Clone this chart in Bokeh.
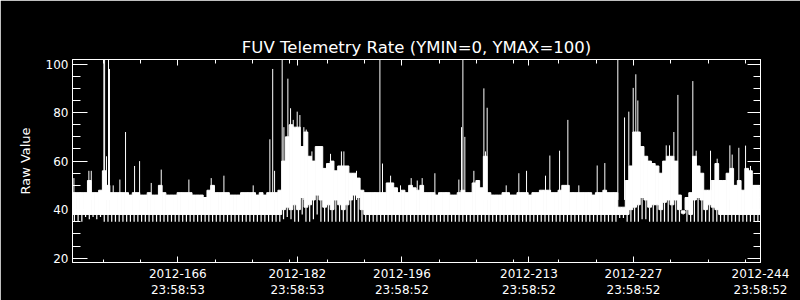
import numpy as np
from bokeh.plotting import figure
from bokeh.models import FixedTicker, LinearAxis, Range1d, CustomLabelingPolicy
from bokeh.embed import file_html
from bokeh.resources import INLINE

# ---------------- data ----------------
title_text = "FUV Telemetry Rate (YMIN=0, YMAX=100)"
y_label = "Raw Value"

# x in days (tick "2012-166 23:58:53" sits at 167)
major_days = [167, 183, 197, 214, 228, 245]
major_labels = ["2012-166\n23:58:53", "2012-182\n23:58:53", "2012-196\n23:58:52",
                "2012-213\n23:58:52", "2012-227\n23:58:52", "2012-244\n23:58:52"]
minor_days = [157, 162, 167, 172, 177, 182, 187, 192, 197, 202, 207, 212,
              218, 223, 228, 233, 238, 243]
y_major = [20, 40, 60, 80, 100]
y_minor = [20, 25, 30, 35, 40, 45, 50, 55, 60, 65, 70, 75, 80, 85, 90, 95, 100]

# half-day bins of the telemetry rate: upper level, lower edge of dense band, minimum
bin_start = 152.9
bin_width = 0.5
hi = [47, 47, 47, 47, 52, 47, 47, 48, 56, 50,
      47, 47, 47, 47, 47, 46, 47, 47, 46, 46,
      47, 46, 46, 50, 47, 46, 46, 46, 47, 47,
      47, 47, 46, 46, 46, 45, 48, 50, 47, 47,
      47, 47, 46, 46, 46, 47, 47, 47, 47, 46,
      47, 46, 47, 47, 47, 48, 60, 70, 75, 74,
      74, 66, 72, 62, 60, 66, 66, 57, 59, 60,
      56, 58, 58, 58, 55, 55, 53, 48, 47, 47,
      47, 47, 47, 47, 51, 51, 49, 47, 48, 47,
      50, 49, 48, 50, 47, 47, 47, 46, 47, 47,
      47, 46, 46, 47, 48, 47, 47, 51, 52, 49,
      62, 47, 46, 46, 46, 47, 47, 46, 46, 47,
      47, 47, 46, 47, 47, 48, 48, 48, 47, 47,
      48, 50, 50, 47, 47, 47, 47, 47, 47, 46,
      47, 47, 48, 47, 47, 47, 41, 41, 52, 58,
      72, 72, 66, 62, 60, 59, 58, 55, 60, 62,
      62, 60, 46, 39.5, 45, 47, 62, 58, 55, 48,
      48, 52, 59, 52, 52, 55, 57, 50, 52, 48,
      57, 56, 50, 50, 49]
band_floor = [38, 38, 38, 38, 38, 38, 38, 38, 38, 38,
              38, 38, 38, 38, 38, 38, 38, 38, 38, 38,
              38, 38, 38, 38, 38, 38, 38, 38, 38, 38,
              38, 38, 38, 38, 38, 38, 38, 38, 38, 38,
              38, 38, 38, 38, 38, 38, 38, 38, 38, 38,
              38, 38, 38, 38, 38, 38, 40, 41, 40, 42,
              40, 45, 41, 42, 44, 46, 44, 41, 42, 40,
              44, 42, 40, 42, 44, 46, 45, 40, 38, 38,
              38, 38, 38, 38, 38, 38, 38, 38, 38, 38,
              38, 38, 38, 38, 38, 38, 38, 38, 38, 38,
              38, 38, 38, 38, 38, 38, 38, 38, 38, 38,
              38, 38, 38, 38, 38, 38, 38, 38, 38, 38,
              38, 38, 38, 38, 38, 38, 38, 38, 38, 38,
              38, 38, 38, 38, 38, 38, 38, 38, 38, 38,
              38, 38, 38, 38, 38, 38, 38, 38, 38, 40,
              41, 42, 45, 44, 41, 42, 42, 40, 43, 44,
              42, 44, 40, 38.5, 40, 38, 44, 45, 44, 40,
              42, 41, 40, 38, 38, 38, 38, 38, 38, 38,
              38, 38, 38, 38, 38]
lo = [35, 35, 35, 37, 36, 37, 36, 37, 35, 35,
      35, 35, 35, 35, 35, 35, 35, 35, 35, 35,
      35, 35, 35, 35, 35, 35, 35, 35, 35, 35,
      35, 35, 35, 35, 35, 35, 35, 35, 35, 35,
      35, 35, 35, 35, 35, 35, 35, 35, 35, 35,
      35, 35, 35, 35, 35, 35, 36, 37, 36, 35,
      35, 38, 35, 35, 36, 38, 35, 35, 35, 35,
      35, 35, 35, 35, 35, 35, 35, 35, 35, 35,
      35, 35, 35, 35, 35, 35, 35, 35, 35, 35,
      35, 35, 35, 35, 35, 35, 35, 35, 35, 35,
      35, 35, 35, 35, 35, 35, 35, 35, 35, 35,
      35, 35, 35, 35, 35, 35, 35, 35, 35, 35,
      35, 35, 35, 35, 35, 35, 35, 35, 35, 35,
      35, 35, 35, 35, 35, 35, 35, 35, 35, 35,
      35, 35, 35, 35, 35, 35, 36.5, 36.5, 35, 35,
      35, 35, 36, 36, 35, 35, 35, 35, 35, 35,
      35, 35, 35, 38, 35, 35, 35, 35, 35, 35,
      35, 35, 35, 35, 35, 35, 35, 35, 35, 35,
      35, 35, 35, 35, 35]

spike_day = [153.09, 155.09, 155.41, 157.10, 157.20, 157.45, 157.72, 157.85, 158.35, 159.24,
             160.00, 161.21, 161.88, 163.44, 164.78, 168.48, 171.47, 173.17, 177.09, 179.32,
             179.70, 179.95, 180.97, 181.20, 181.73, 182.09, 182.45, 182.98, 183.34, 183.87,
             184.19, 184.95, 187.44, 188.90, 189.23, 190.92, 194.05, 194.40, 195.48, 196.81,
             198.24, 199.05, 199.71, 201.41, 204.62, 204.98, 205.16, 205.42, 206.63, 207.97,
             208.19, 208.41, 210.96, 212.65, 213.68, 216.22, 216.80, 218.10, 219.21, 220.68,
             223.14, 224.16, 225.90, 226.80, 227.37, 227.96, 228.31, 228.58, 232.38, 232.82,
             233.40, 233.94, 235.94, 236.39, 238.31, 239.20, 240.90, 241.21, 242.10, 243.00,
             243.66]
spike_val = [53, 56, 56, 104, 104, 62, 104, 98, 50, 52.4,
             72, 58, 60, 51, 56.5, 52.4, 53, 54, 50, 69,
             98, 56, 104, 74, 94, 81.8, 77, 80.4, 79, 74,
             73, 64, 63, 64, 64, 56, 104, 59, 54, 50,
             53, 52, 53, 55, 52.4, 74, 104, 70, 56, 90,
             64, 82, 50, 55, 56, 54, 62.3, 64.3, 77, 50,
             58.2, 59.2, 104, 78, 80.4, 90.2, 95.8, 85, 66.5, 66.5,
             72, 87.3, 93, 64.3, 64.3, 61, 66.5, 62.7, 65.5, 66.4,
             58]
spike_base = 44

# ---------------- figure ----------------
FONT = "DejaVu Sans"
WHITE = "white"

day = bin_start + bin_width * (np.arange(len(hi)) + 0.5)

p = figure(width=800, height=300, output_backend="svg", toolbar_location=None,
           x_range=Range1d(152.9, 245.0), y_range=Range1d(18.2, 101.9),
           x_axis_location=None, y_axis_location=None,
           min_border_left=72, min_border_right=40, min_border_top=59, min_border_bottom=37)
p.background_fill_color = "black"
p.border_fill_color = "black"
p.outline_line_color = WHITE
p.grid.visible = False

p.title.text = title_text
p.title.text_color = WHITE
p.title.text_font = FONT
p.title.text_font_size = "16.5px"
p.title.text_font_style = "normal"
p.title.align = "center"
p.title.standoff = 6

xt = FixedTicker(ticks=major_days, minor_ticks=minor_days)
yt = FixedTicker(ticks=y_major, minor_ticks=y_minor)

no_labels_code = """
try {
  const ks = [...indices.ones()]
  for (const k of ks) indices.unset(k)
} catch (e) {
  try { indices.invert() } catch (e2) {}
}
return indices
"""


def style(ax, major_len, minor_len, labels=True):
    ax.axis_line_color = WHITE
    ax.major_tick_line_color = WHITE
    ax.minor_tick_line_color = WHITE
    ax.major_tick_in = major_len
    ax.major_tick_out = 0
    ax.minor_tick_in = minor_len
    ax.minor_tick_out = 0
    ax.major_label_text_color = WHITE
    ax.major_label_text_font = FONT
    ax.major_label_text_font_size = "12px"
    if not labels:
        ax.major_label_policy = CustomLabelingPolicy(code=no_labels_code)
        ax.major_label_text_font_size = "0px"
        ax.major_label_standoff = 0


bottom = LinearAxis(ticker=xt)
style(bottom, 6, 3)
bottom.major_label_overrides = {float(d): s for d, s in zip(major_days, major_labels)}
bottom.major_label_standoff = 4
p.add_layout(bottom, "below")

top = LinearAxis(ticker=xt)
style(top, 6, 4, labels=False)
p.add_layout(top, "above")

left = LinearAxis(ticker=yt, axis_label=y_label)
style(left, 15, 8)
left.major_label_standoff = 4
left.axis_label_text_color = WHITE
left.axis_label_text_font = FONT
left.axis_label_text_font_size = "13px"
left.axis_label_text_font_style = "normal"
left.axis_label_standoff = 10
p.add_layout(left, "left")

right = LinearAxis(ticker=yt)
style(right, 13, 7, labels=False)
p.add_layout(right, "right")

p.vbar(x=day, width=bin_width, bottom=band_floor, top=hi,
       fill_color=WHITE, line_color=WHITE, line_width=1)
p.segment(x0=day, y0=lo, x1=day, y1=band_floor, line_color=WHITE, line_width=1.2)
p.segment(x0=spike_day, y0=[spike_base] * len(spike_day), x1=spike_day, y1=spike_val,
          line_color=WHITE, line_width=1)

open("out.html", "w").write(file_html(p, INLINE))
